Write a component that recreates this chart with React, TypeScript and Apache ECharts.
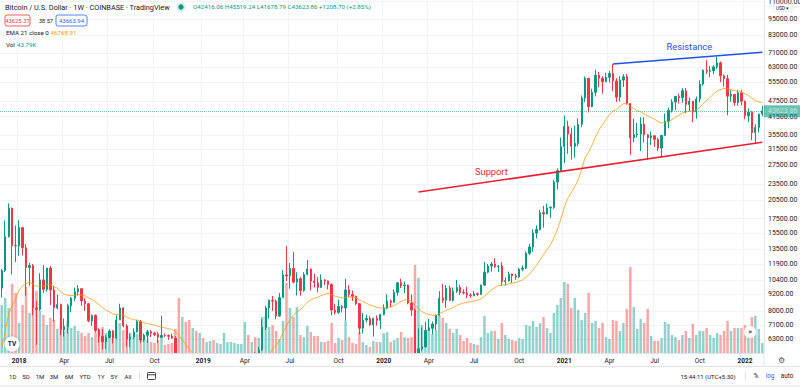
import React, { useEffect, useRef } from "react";
import * as echarts from "echarts";

// ---------- DATA (weekly BTC/USD, Coinbase) ----------
const FIRST_WEEK = "2017-11-27";

const opens = [
  9700, 11250, 15000, 19100, 13900,
  13880, 16200, 13650, 11550, 11750, 8200, 8100, 10400, 9600, 11500, 9550, 8200, 8450, 6800, 7000, 8350, 8900, 9400, 9650, 8700, 8500, 7350, 7700, 6770, 6450, 6150, 6380, 6740, 6350, 7400, 8200, 7040, 6300, 6400, 6700, 7300, 6250, 6500, 6700, 6620, 6550, 6390, 6500, 6490, 6450, 6350, 5550, 4000, 4150, 3550, 3250, 3950,
  3850, 4050, 3520, 3530, 3550, 3420, 3650, 3670, 3750, 3800, 3900, 3990, 4000, 4100, 5200, 5070, 5300, 5200, 5750, 6950, 8200, 8750, 8700, 7650, 8950, 10850, 10750, 11450, 10200, 10500, 9500, 10900, 11400, 10300, 10150, 9750, 10400, 10300, 10000, 8050, 7900, 8300, 8200, 9550, 9200, 9050, 8500, 6900, 7400, 7500, 7100, 7500,
  7380, 7760, 8180, 8700, 8600, 9350, 10150, 9900, 9950, 8550, 8050, 5350, 5800, 5900, 6780, 6900, 7150, 7700, 8900, 8750, 9700, 8750, 9450, 9750, 9350, 9300, 9150, 9100, 9250, 9200, 9950, 11100, 11700, 11900, 11650, 11700, 10250, 10330, 10920, 10770, 10670, 11380, 11500, 13030, 13740, 15480, 15950, 18400, 18200, 19150, 19250, 23850,
  26250, 32200, 38200, 35800, 32300, 33100, 38900, 48600, 57500, 45200, 51000, 59000, 57500, 55800, 58000, 59800, 56200, 49000, 56600, 58200, 46400, 34700, 35600, 35800, 39000, 35600, 34700, 35300, 34250, 31800, 35400, 39900, 43800, 47000, 49300, 48800, 51750, 46000, 47300, 43200, 48200, 54700, 61500, 61000, 61300, 63300, 65500, 58700, 57300, 49400, 50100, 46700, 50800,
  47300, 41850, 43100, 36250, 37900, 42416.06,
];

const highs = [
  11400, 17200, 19890, 19200, 16500,
  17250, 16300, 14100, 12000, 11900, 8700, 11000, 11800, 11500, 11700, 9900, 9180, 8500, 7500, 8500, 9000, 9750, 9950, 9700, 8900, 8550, 7750, 7750, 6900, 6850, 6500, 6840, 6790, 7700, 8500, 8250, 7150, 6600, 6900, 7400, 7400, 6600, 6800, 6800, 6700, 6700, 7680, 6600, 6550, 6600, 6450, 5600, 4400, 4200, 3600, 4200, 4250,
  4100, 4100, 3700, 3650, 3560, 3700, 3700, 4200, 3900, 3950, 4000, 4070, 4150, 5300, 5470, 5400, 5650, 5900, 7450, 8350, 8800, 9070, 8800, 9300, 11300, 13880, 12000, 13200, 11100, 10650, 11100, 12300, 11450, 10950, 10650, 10900, 10450, 10350, 10100, 8500, 8800, 8400, 10500, 9950, 9500, 9100, 8550, 7850, 7750, 7650, 7550, 7700,
  7800, 8450, 9200, 8800, 9600, 10200, 10500, 10250, 10000, 9200, 8150, 6900, 6950, 7300, 7470, 7300, 7750, 9450, 10050, 9950, 9900, 9750, 10400, 9980, 9600, 9800, 9300, 9450, 9350, 10000, 12100, 11900, 12100, 12500, 11800, 12100, 10600, 11150, 10980, 10950, 11500, 11750, 13250, 14100, 15950, 16500, 18850, 19500, 19900, 19400, 24300, 26800,
  34800, 41950, 40100, 37800, 38500, 40950, 49700, 58350, 57600, 52600, 61800, 60600, 58500, 60200, 61200, 64900, 57500, 58500, 59500, 59600, 46600, 40800, 39400, 41300, 41300, 35800, 36600, 35400, 34700, 35500, 42600, 44800, 48100, 49400, 50500, 52900, 52900, 48800, 47400, 49200, 56500, 62000, 67000, 63700, 64250, 69000, 66300, 59300, 59200, 51950, 50200, 51900, 52100,
  47600, 44500, 43500, 38900, 42600, 45519.24,
];

const lows = [
  8950, 11100, 14900, 10900, 12100,
  12750, 12800, 9100, 9900, 7700, 6000, 8000, 9300, 9400, 8400, 7300, 8100, 6500, 6430, 6600, 7900, 8700, 9100, 8350, 8000, 7260, 7050, 6660, 6100, 5780, 5800, 6380, 6070, 6300, 7400, 6950, 5900, 5880, 6300, 6650, 6100, 6150, 6100, 6400, 6450, 6100, 6350, 6400, 6250, 6300, 5300, 3600, 3600, 3300, 3200, 3250, 3550,
  3700, 3500, 3500, 3500, 3370, 3380, 3580, 3650, 3700, 3700, 3800, 3950, 3900, 4100, 4950, 5000, 5070, 5200, 5700, 6800, 7500, 8000, 7450, 7600, 8950, 10300, 9650, 10100, 9100, 9100, 9400, 10800, 9500, 9750, 9350, 9750, 9950, 9600, 7700, 7750, 7800, 7900, 7350, 9000, 8700, 8400, 6550, 6600, 7250, 7050, 6430, 7050,
  6850, 7700, 8100, 8250, 8550, 9100, 9700, 9300, 8450, 7650, 3850, 4450, 5700, 5850, 6750, 6550, 6800, 7700, 8550, 8200, 8700, 8650, 9300, 9150, 9200, 8900, 8950, 9050, 9050, 9150, 9900, 11000, 11150, 11500, 11100, 9900, 9900, 10250, 10150, 10400, 10550, 11200, 11400, 12850, 13200, 14800, 15800, 16200, 18100, 17600, 19000, 22400,
  26100, 28000, 30300, 28850, 29300, 32300, 38000, 47000, 43000, 45000, 49300, 53300, 50400, 55600, 55500, 51500, 47000, 47200, 53400, 46000, 30000, 33400, 34800, 31000, 33300, 28800, 32700, 32100, 31000, 29300, 35200, 37600, 43000, 43900, 46400, 46700, 42800, 43400, 39600, 40800, 46900, 53900, 59600, 58000, 59400, 62300, 55600, 53500, 42000, 47100, 45500, 45500, 45700,
  40600, 39600, 34000, 32950, 36300, 41678.79,
];

const closes = [
  11250, 15000, 19100, 13900, 13880,
  16200, 13650, 11550, 11750, 8200, 8100, 10400, 9600, 11500, 9550, 8200, 8450, 6800, 7000, 8350, 8900, 9400, 9650, 8700, 8500, 7350, 7700, 6770, 6450, 6150, 6380, 6740, 6350, 7400, 8200, 7040, 6300, 6400, 6700, 7300, 6250, 6500, 6700, 6620, 6550, 6390, 6500, 6490, 6450, 6350, 5550, 4000, 4150, 3550, 3250, 3950, 3850,
  4050, 3520, 3530, 3550, 3420, 3650, 3670, 3750, 3800, 3900, 3990, 4000, 4100, 5200, 5070, 5300, 5200, 5750, 6950, 8200, 8750, 8700, 7650, 8950, 10850, 10750, 11450, 10200, 10500, 9500, 10900, 11400, 10300, 10150, 9750, 10400, 10300, 10000, 8050, 7900, 8300, 8200, 9550, 9200, 9050, 8500, 6900, 7400, 7500, 7100, 7500, 7380,
  7760, 8180, 8700, 8600, 9350, 10150, 9900, 9950, 8550, 8050, 5350, 5800, 5900, 6780, 6900, 7150, 7700, 8900, 8750, 9700, 8750, 9450, 9750, 9350, 9300, 9150, 9100, 9250, 9200, 9950, 11100, 11700, 11900, 11650, 11700, 10250, 10330, 10920, 10770, 10670, 11380, 11500, 13030, 13740, 15480, 15950, 18400, 18200, 19150, 19250, 23850, 26250,
  32200, 38200, 35800, 32300, 33100, 38900, 48600, 57500, 45200, 51000, 59000, 57500, 55800, 58000, 59800, 56200, 49000, 56600, 58200, 46400, 34700, 35600, 35800, 39000, 35600, 34700, 35300, 34250, 31800, 35400, 39900, 43800, 47000, 49300, 48800, 51750, 46000, 47300, 43200, 48200, 54700, 61500, 61000, 61300, 63300, 65500, 58700, 57300, 49400, 50100, 46700, 50800, 47300,
  41850, 43100, 36250, 37900, 42400, 43623.86,
];

// weekly volume, thousands of BTC
const volumesK = [
  211, 242, 198, 304, 264,
  132, 211, 290, 176, 220, 273, 185, 167, 123, 154, 145, 106, 132, 97, 141, 110, 119, 97, 88, 75, 88, 70, 92, 106, 114, 88, 75, 66, 119, 132, 101, 119, 88, 66, 84, 97, 62, 57, 48, 44, 57, 75, 35, 40, 44, 106, 242, 158, 136, 145, 110, 97,
  88, 66, 48, 53, 57, 44, 40, 88, 48, 48, 44, 40, 40, 136, 79, 48, 70, 66, 158, 163, 114, 123, 97, 62, 141, 308, 198, 158, 202, 79, 70, 119, 92, 75, 75, 48, 48, 53, 132, 44, 66, 57, 141, 70, 44, 40, 92, 48, 35, 26, 53, 48,
  48, 88, 92, 48, 57, 66, 92, 70, 66, 70, 387, 330, 123, 101, 114, 84, 101, 167, 154, 132, 106, 88, 106, 79, 53, 66, 44, 40, 35, 70, 163, 88, 97, 97, 62, 132, 79, 62, 57, 53, 66, 62, 123, 119, 141, 114, 132, 158, 110, 88, 176, 211,
  242, 312, 304, 198, 242, 189, 145, 176, 264, 132, 141, 110, 132, 70, 62, 145, 141, 97, 132, 194, 378, 202, 106, 150, 132, 194, 75, 53, 53, 66, 136, 128, 79, 70, 57, 79, 97, 66, 128, 79, 97, 97, 110, 79, 66, 88, 79, 97, 141, 97, 110, 110, 110,
  123, 97, 158, 163, 106, 43.79,
];

const priceTicks = [110000, 95000, 83000, 71000, 63000, 55500, 47500, 41500, 35500, 31500, 27500, 23500, 20500, 17500, 15500, 13500, 11900, 10400, 9200, 8000, 7100, 6300];
const PRICE_AXIS_MIN = 5595;
const PRICE_AXIS_MAX = 111620;
const VOLUME_AXIS_MAX = 1550;

const EMA_LENGTH = 21;
const EMA_START = 5300; // EMA value read at the left edge of the chart

const supportLine: [string, number][] = [["2020-03-16", 21900], ["2022-02-07", 33400]];
const resistanceLine: [string, number][] = [["2021-04-12", 64900], ["2022-02-07", 71700]];
const supportLabel: [string, number] = ["2020-08-10", 26030];
const resistanceLabel: [string, number] = ["2021-09-13", 75100];

const monthNames = ["Jan", "Feb", "Mar", "Apr", "May", "Jun", "Jul", "Aug", "Sep", "Oct", "Nov", "Dec"];
const labelMonths = [0, 3, 6, 9];

const toolbarRanges = ["1D", "5D", "1M", "3M", "6M", "YTD", "1Y", "5Y", "All"];

// ---------- COLOURS ----------
const UP = "#089981";
const DOWN = "#f23645";
const VOL_UP = "rgba(38,166,154,0.5)";
const VOL_DOWN = "rgba(239,83,80,0.5)";
const GRID = "#f0f3fa";
const BORDER = "#e0e3eb";
const TEXT = "#131722";
const BLUE = "#2962ff";
const FONT = "Roboto, 'Noto Sans', Arial, sans-serif";

const weekDates: string[] = opens.map((_, i) => {
  const [y, m, d] = FIRST_WEEK.split("-").map(Number);
  const t = Date.UTC(y, m - 1, d) + i * 7 * 86400000;
  return new Date(t).toISOString().slice(0, 10);
});
const monthOf = (s: string) => Number(s.slice(5, 7)) - 1;
const isLabelWeek = (i: number) => {
  if (i === 0) return false;
  const m = monthOf(weekDates[i]);
  return labelMonths.includes(m) && monthOf(weekDates[i - 1]) !== m;
};

const ln = Math.log;

function buildEma(): number[] {
  const k = 2 / (EMA_LENGTH + 1);
  let prev = EMA_START;
  return closes.map((c) => {
    prev = prev + k * (c - prev);
    return prev;
  });
}

function txt(x: number, y: number, text: string, o: any = {}) {
  return {
    type: "text",
    x,
    y,
    z: 100,
    silent: true,
    style: {
      text,
      fill: o.fill || TEXT,
      fontSize: o.size || 7,
      fontFamily: FONT,
      fontWeight: o.weight || "normal",
      align: o.align || "left",
      textAlign: o.align || "left",
      verticalAlign: "middle",
      textVerticalAlign: "middle",
    },
  };
}

function buildOption(): any {
  const ema = buildEma();
  const lastClose = closes[closes.length - 1];
  const tickLn = priceTicks.map(ln);

  const graphic: any[] = [
    // mask below the price pane (hides wicks that run past the pane's bottom edge)
    { type: "rect", z: 50, silent: true, shape: { x: 0, y: 353.5, width: 800, height: 34 }, style: { fill: "#ffffff" } },
    // legend
    txt(5, 7, "Bitcoin / U.S. Dollar · 1W · COINBASE · TradingView", { size: 7.3 }),
    { type: "circle", z: 100, shape: { cx: 181, cy: 7, r: 4.5 }, style: { fill: "rgba(8,153,129,0.18)" } },
    { type: "circle", z: 101, shape: { cx: 181, cy: 7, r: 2.6 }, style: { fill: UP } },
    txt(193, 7, "O42416.06 H45519.24 L41678.79 C43623.86 +1208.70 (+2.85%)", { size: 6.2, fill: UP }),
    { type: "rect", z: 100, shape: { x: 5, y: 15, width: 25, height: 11, r: 2 }, style: { fill: "#fff", stroke: DOWN, lineWidth: 0.8 } },
    txt(17.5, 20.5, "43625.37", { size: 5.8, fill: DOWN, align: "center" }),
    txt(39, 20.5, "38.57", { size: 5.5 }),
    { type: "rect", z: 100, shape: { x: 56, y: 15, width: 31, height: 11, r: 2 }, style: { fill: "#fff", stroke: BLUE, lineWidth: 0.8 } },
    txt(71.5, 20.5, "43663.94", { size: 6, fill: BLUE, align: "center" }),
    txt(6, 33, "EMA 21 close 0", { size: 6.2 }),
    txt(50.5, 33, "46768.91", { size: 6.2, fill: "#ff9800" }),
    txt(6, 45, "Vol", { size: 6.2 }),
    txt(17, 45, "43.79K", { size: 6.2, fill: UP }),
    // currency button on price scale
    { type: "rect", z: 100, shape: { x: 773, y: 4, width: 19, height: 7.5, r: 1.5 }, style: { fill: "#fff", stroke: BORDER, lineWidth: 0.8 } },
    txt(782.5, 7.8, "USD ▾", { size: 5, align: "center" }),
    // logo and scroll button
    { type: "circle", z: 100, shape: { cx: 12, cy: 344, r: 7.5 }, style: { fill: "#fff", shadowBlur: 3, shadowColor: "rgba(0,0,0,0.25)" } },
    txt(12, 344, "TV", { size: 6.5, weight: "bold", align: "center" }),
    { type: "circle", z: 100, shape: { cx: 750, cy: 332, r: 6 }, style: { fill: "rgba(255,255,255,0.92)", stroke: BORDER, lineWidth: 0.6 } },
    txt(750, 331.5, "»", { size: 8, align: "center" }),
    // bottom chrome
    { type: "line", z: 100, shape: { x1: 764, y1: 353, x2: 764, y2: 366.5 }, style: { stroke: BORDER, lineWidth: 1 } },
    txt(781, 360, "⚙", { size: 8, align: "center", fill: "#50535e" }),
    { type: "line", z: 100, shape: { x1: 0, y1: 366.5, x2: 800, y2: 366.5 }, style: { stroke: BORDER, lineWidth: 1 } },
    { type: "line", z: 100, shape: { x1: 0, y1: 386, x2: 800, y2: 386 }, style: { stroke: BORDER, lineWidth: 1 } },
    { type: "line", z: 100, shape: { x1: 139.5, y1: 371, x2: 139.5, y2: 381 }, style: { stroke: BORDER, lineWidth: 1 } },
    { type: "rect", z: 100, shape: { x: 147.5, y: 372.5, width: 8, height: 7, r: 1 }, style: { fill: "none", stroke: TEXT, lineWidth: 0.8 } },
    { type: "line", z: 100, shape: { x1: 147.5, y1: 374.8, x2: 155.5, y2: 374.8 }, style: { stroke: TEXT, lineWidth: 0.8 } },
    { type: "line", z: 100, shape: { x1: 745.5, y1: 371, x2: 745.5, y2: 381 }, style: { stroke: BORDER, lineWidth: 1 } },
    txt(708, 376, "15:44:11 (UTC+5:30)", { size: 6, align: "center" }),
    txt(756, 376, "%", { size: 6.3, align: "center" }),
    txt(770, 376, "log", { size: 6.3, align: "center", fill: BLUE }),
    txt(787, 376, "auto", { size: 6.3, align: "center" }),
  ];
  const rangeX = [12.7, 26, 40, 54, 69, 85, 101, 114, 128];
  toolbarRanges.forEach((r, i) => graphic.push(txt(rangeX[i], 376, r, { size: 6, align: "center" })));

  const labelAxis = {
    type: "category",
    data: weekDates,
    boundaryGap: true,
    position: "bottom",
    offset: 0,
    z: 60,
    axisLine: { show: true, lineStyle: { color: BORDER } },
    axisTick: { show: false },
    axisLabel: {
      interval: (i: number) => isLabelWeek(i),
      formatter: (v: string) => {
        const m = monthOf(v);
        return m === 0 ? `{yr|${v.slice(0, 4)}}` : monthNames[m];
      },
      fontSize: 6.5,
      color: TEXT,
      margin: 4,
      fontFamily: FONT,
      rich: { yr: { fontWeight: "bold", fontSize: 6.5, color: TEXT, fontFamily: FONT } },
    },
    splitLine: { show: false },
  };

  return {
    animation: false,
    backgroundColor: "#ffffff",
    textStyle: { fontFamily: FONT },
    grid: [{ left: 0, top: 0, width: 764, height: 353, containLabel: false, outerBoundsMode: "none" }],
    xAxis: [
      {
        type: "category",
        data: weekDates,
        boundaryGap: true,
        position: "bottom",
        z: 0,
        axisLine: { show: false },
        axisTick: { show: false },
        axisLabel: { show: false },
        splitLine: { show: true, interval: (i: number) => isLabelWeek(i), lineStyle: { color: GRID, width: 1 } },
      },
      labelAxis,
    ],
    yAxis: [
      {
        type: "value",
        position: "right",
        min: ln(PRICE_AXIS_MIN),
        max: ln(PRICE_AXIS_MAX),
        axisLine: { show: true, lineStyle: { color: BORDER } },
        axisTick: { show: false, customValues: tickLn },
        axisLabel: {
          customValues: tickLn,
          formatter: (v: number) => {
            const p = priceTicks.find((t) => Math.abs(ln(t) - v) < 1e-6);
            return p ? p.toFixed(2) : "";
          },
          fontSize: 7,
          color: TEXT,
          margin: 4,
          fontFamily: FONT,
        },
        splitLine: { show: true, lineStyle: { color: GRID, width: 1 } },
      },
      { type: "value", min: 0, max: VOLUME_AXIS_MAX, show: false, splitLine: { show: false } },
    ],
    series: [
      {
        type: "bar",
        name: "Vol",
        xAxisIndex: 0,
        yAxisIndex: 1,
        barWidth: "72%",
        silent: true,
        clip: true,
        z: 1,
        data: volumesK.map((v, i) => ({ value: v, itemStyle: { color: closes[i] >= opens[i] ? VOL_UP : VOL_DOWN } })),
      },
      {
        type: "candlestick",
        name: "BTCUSD",
        xAxisIndex: 0,
        yAxisIndex: 0,
        barWidth: "52%",
        z: 3,
        silent: true,
        clip: true,
        itemStyle: { color: UP, color0: DOWN, borderColor: UP, borderColor0: DOWN, borderWidth: 1 },
        data: opens.map((o, i) => [ln(o), ln(closes[i]), ln(lows[i]), ln(highs[i])]),
        markLine: {
          silent: true,
          symbol: ["none", "none"],
          lineStyle: { color: UP, type: "dotted", width: 1, opacity: 0.6 },
          label: {
            show: true,
            position: "end",
            distance: 0,
            formatter: () => lastClose.toFixed(2),
            backgroundColor: UP,
            color: "#fff",
            fontSize: 7,
            fontFamily: FONT,
            padding: [2.5, 3, 2.5, 4],
          },
          data: [{ yAxis: ln(lastClose) }],
        },
      },
      {
        type: "line",
        name: "EMA 21",
        xAxisIndex: 0,
        yAxisIndex: 0,
        symbol: "none",
        silent: true,
        clip: true,
        z: 4,
        lineStyle: { color: "rgba(255,152,0,0.75)", width: 1 },
        data: ema.map(ln),
      },
      {
        type: "line",
        name: "Support",
        xAxisIndex: 0,
        yAxisIndex: 0,
        symbol: "none",
        silent: true,
        z: 5,
        lineStyle: { color: "#e91e2f", width: 1.6 },
        data: supportLine.map(([d, p]) => [d, ln(p)]),
        markPoint: {
          symbol: "circle",
          symbolSize: 0,
          silent: true,
          label: { show: true, position: "inside", color: "#e91e2f", fontSize: 9.3, fontFamily: FONT },
          data: [{ coord: [supportLabel[0], ln(supportLabel[1])], value: "Support", label: { formatter: "Support" } }],
        },
      },
      {
        type: "line",
        name: "Resistance",
        xAxisIndex: 0,
        yAxisIndex: 0,
        symbol: "none",
        silent: true,
        z: 5,
        lineStyle: { color: "#1e53e5", width: 1.6 },
        data: resistanceLine.map(([d, p]) => [d, ln(p)]),
        markPoint: {
          symbol: "circle",
          symbolSize: 0,
          silent: true,
          label: { show: true, position: "inside", color: "#1e53e5", fontSize: 9.3, fontFamily: FONT },
          data: [{ coord: [resistanceLabel[0], ln(resistanceLabel[1])], value: "Resistance", label: { formatter: "Resistance" } }],
        },
      },
    ],
    graphic,
  };
}

export default function App() {
  const ref = useRef<HTMLDivElement>(null);
  useEffect(() => {
    document.body.style.margin = "0";
    const chart = echarts.init(ref.current!, undefined, { renderer: "svg" });
    chart.setOption(buildOption());
    return () => chart.dispose();
  }, []);
  return <div ref={ref} style={{ width: 800, height: 387, background: "#fff" }} />;
}
